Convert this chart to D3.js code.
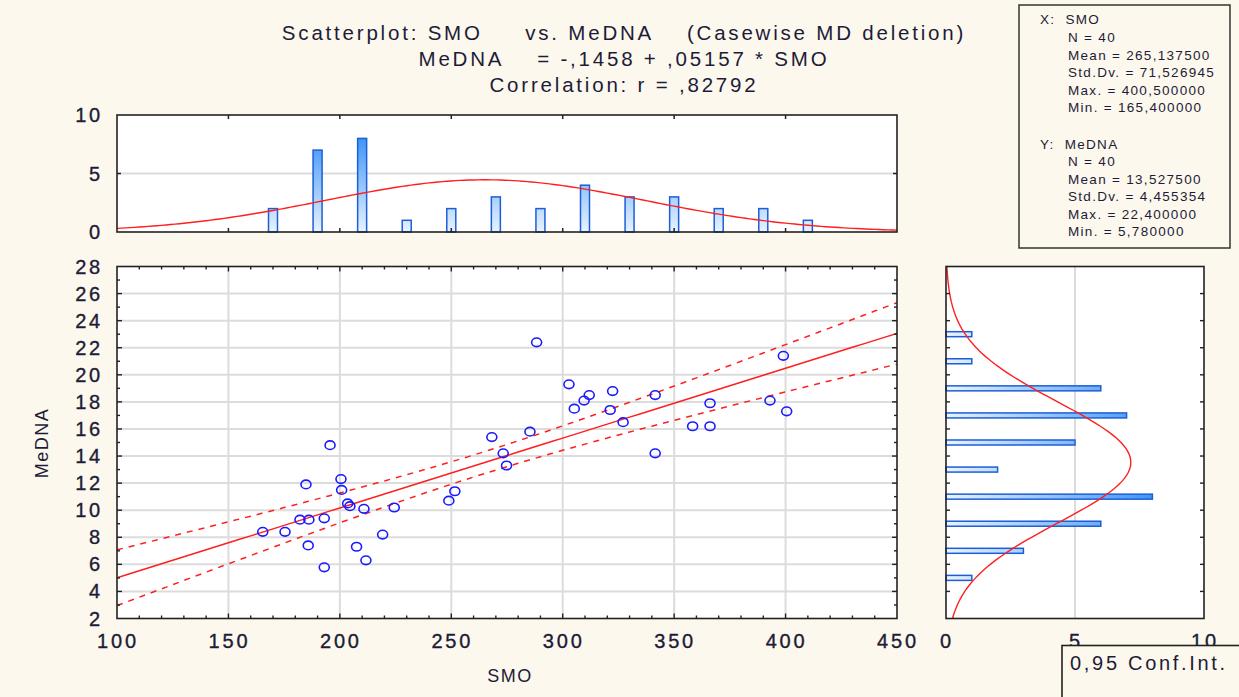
<!DOCTYPE html>
<html>
<head>
<meta charset="utf-8">
<script src="https://cdn.jsdelivr.net/npm/d3@7"></script>
<style>
  html, body { margin: 0; padding: 0; background: #fdf8ed; }
  svg { display: block; }
  text { font-family: "Liberation Sans", Arial, sans-serif; fill: #1c1c38; white-space: pre; }
  .num { font-size: 20px; letter-spacing: 2.8px; stroke: #1c1c38; stroke-width: 0.35px; }
</style>
</head>
<body>
<svg id="chart" width="1239" height="697"></svg>
<script>
// Paired observations (casewise deletion, N = 40)
const smo = [165.4, 175.4, 182.1, 184.8, 186.1, 185.8, 193.0, 193.0, 195.6, 200.5,
             200.8, 203.5, 204.5, 207.5, 210.8, 211.7, 219.2, 224.4, 248.9, 251.6,
             268.2, 273.3, 274.8, 285.3, 288.3, 302.8, 305.2, 309.6, 311.9, 321.3,
             322.4, 327.1, 341.5, 341.5, 358.3, 366.1, 366.1, 393.0, 399.0, 400.5];
const medna = [8.4, 8.4, 9.3, 11.9, 9.3, 7.4, 9.4, 5.78, 14.8, 12.3,
               11.5, 10.5, 10.3, 7.3, 10.1, 6.3, 8.2, 10.2, 10.7, 11.4,
               15.4, 14.2, 13.3, 15.8, 22.4, 19.3, 17.5, 18.1, 18.5, 17.4,
               18.8, 16.5, 18.5, 14.2, 16.2, 17.9, 16.2, 18.1, 21.4, 17.3];

// Marginal histograms: bin midpoints and frequencies
const smoBinMid = [150, 170, 190, 210, 230, 250, 270, 290, 310, 330, 350, 370, 390, 410, 430];
const smoBinCount = [0, 2, 7, 8, 1, 2, 3, 2, 4, 3, 3, 2, 2, 1, 0];
const smoBinWidth = 20;
const mednaBinMid = [5, 7, 9, 11, 13, 15, 17, 19, 21, 23];
const mednaBinCount = [1, 3, 6, 8, 2, 5, 7, 6, 1, 1];
const mednaBinWidth = 2;

// Summary statistics and regression
const nObs = 40;
const smoMean = 265.1375, smoSd = 71.526945;
const mednaMean = 13.5275, mednaSd = 4.455354;
const intercept = -0.1458, slope = 0.05157, corr = 0.82792;
const tCrit = 2.0244; // t(0.975, 38)

// Tick values
const xTicks = [100, 150, 200, 250, 300, 350, 400, 450];
const yTicks = [2, 4, 6, 8, 10, 12, 14, 16, 18, 20, 22, 24, 26, 28];
const topHistTicks = [0, 5, 10];
const rightHistTicks = [0, 5, 10];

// Text blocks
const titleLines = [
  "Scatterplot: SMO     vs. MeDNA    (Casewise MD deletion)",
  "MeDNA    = -,1458 + ,05157 * SMO",
  "Correlation: r = ,82792"
];
const statsX = ["N = 40", "Mean = 265,137500", "Std.Dv. = 71,526945", "Max. = 400,500000", "Min. = 165,400000"];
const statsY = ["N = 40", "Mean = 13,527500", "Std.Dv. = 4,455354", "Max. = 22,400000", "Min. = 5,780000"];

const svg = d3.select("#chart");
const fmt = d3.format("d");

// Panel geometry
const mainP = { x0: 117, x1: 897, y0: 266.5, y1: 618.5 };
const topP = { x0: 117, x1: 897, y0: 115, y1: 232 };
const sideP = { x0: 946, x1: 1204, y0: 266.5, y1: 618.5 };

const x = d3.scaleLinear().domain([100, 450]).range([mainP.x0, mainP.x1]);
const y = d3.scaleLinear().domain([2, 28]).range([mainP.y1, mainP.y0]);
const yTop = d3.scaleLinear().domain([0, 10]).range([topP.y1, topP.y0]);
const xSide = d3.scaleLinear().domain([0, 10]).range([sideP.x0, sideP.x1]);

const defs = svg.append("defs");
[["clipMain", mainP], ["clipTop", topP], ["clipSide", sideP]].forEach(([id, p]) => {
  defs.append("clipPath").attr("id", id).append("rect")
    .attr("x", p.x0).attr("y", p.y0).attr("width", p.x1 - p.x0).attr("height", p.y1 - p.y0);
});
// Bar fills shade with frequency
const gTop = defs.append("linearGradient").attr("id", "barTop")
  .attr("gradientUnits", "userSpaceOnUse")
  .attr("x1", 0).attr("x2", 0).attr("y1", yTop(0)).attr("y2", yTop(9));
gTop.append("stop").attr("offset", 0).attr("stop-color", "#e8f3ff");
gTop.append("stop").attr("offset", 1).attr("stop-color", "#2a8af5");
const gSide = defs.append("linearGradient").attr("id", "barSide")
  .attr("gradientUnits", "userSpaceOnUse")
  .attr("y1", 0).attr("y2", 0).attr("x1", xSide(0)).attr("x2", xSide(9));
gSide.append("stop").attr("offset", 0).attr("stop-color", "#e8f3ff");
gSide.append("stop").attr("offset", 1).attr("stop-color", "#2a8af5");

function panelBg(p) {
  svg.append("rect").attr("x", p.x0).attr("y", p.y0)
    .attr("width", p.x1 - p.x0).attr("height", p.y1 - p.y0).attr("fill", "#ffffff");
}
function panelFrame(p) {
  svg.append("rect").attr("x", p.x0).attr("y", p.y0)
    .attr("width", p.x1 - p.x0).attr("height", p.y1 - p.y0)
    .attr("fill", "none").attr("stroke", "#222").attr("stroke-width", 1.6);
}
const gridColor = "#dcdcdc";

// ---------- Title ----------
svg.append("g").selectAll("text").data(titleLines).join("text")
  .attr("x", 624).attr("y", (d, i) => 40 + i * 26)
  .attr("text-anchor", "middle")
  .style("font-size", "20.5px").style("letter-spacing", "2.8px")
  .text(d => d);

// ---------- Top histogram (SMO) ----------
panelBg(topP);
svg.append("line").attr("x1", topP.x0).attr("x2", topP.x1)
  .attr("y1", yTop(5)).attr("y2", yTop(5)).attr("stroke", gridColor).attr("stroke-width", 2);
const topBarW = 9;
svg.append("g").selectAll("rect").data(smoBinMid).join("rect")
  .attr("x", (d) => x(d) - topBarW / 2)
  .attr("y", (d, i) => yTop(smoBinCount[i]))
  .attr("width", topBarW)
  .attr("height", (d, i) => yTop(0) - yTop(smoBinCount[i]))
  .attr("fill", "url(#barTop)").attr("stroke", "#1d5ed8").attr("stroke-width", 1.5);
const normTop = d3.range(100, 450.5, 2).map(v => [v,
  nObs * smoBinWidth / (smoSd * Math.sqrt(2 * Math.PI)) * Math.exp(-0.5 * ((v - smoMean) / smoSd) ** 2)]);
svg.append("path").datum(normTop).attr("clip-path", "url(#clipTop)")
  .attr("d", d3.line().x(d => x(d[0])).y(d => yTop(d[1])))
  .attr("fill", "none").attr("stroke", "#ff1f1f").attr("stroke-width", 1.4);
// ticks
const topTickX = xTicks.slice(1, -1);
svg.append("g").selectAll("line").data(topTickX).join("line")
  .attr("x1", d => x(d)).attr("x2", d => x(d)).attr("y1", topP.y0).attr("y2", topP.y0 + 4)
  .attr("stroke", "#222").attr("stroke-width", 1.5);
svg.append("g").selectAll("line").data(topTickX).join("line")
  .attr("x1", d => x(d)).attr("x2", d => x(d)).attr("y1", topP.y1).attr("y2", topP.y1 - 4)
  .attr("stroke", "#222").attr("stroke-width", 1.5);
svg.append("g").selectAll("line").data([5]).join("line")
  .attr("x1", topP.x0).attr("x2", topP.x0 + 4).attr("y1", d => yTop(d)).attr("y2", d => yTop(d))
  .attr("stroke", "#222").attr("stroke-width", 1.5);
svg.append("g").selectAll("line").data([5]).join("line")
  .attr("x1", topP.x1).attr("x2", topP.x1 - 4).attr("y1", d => yTop(d)).attr("y2", d => yTop(d))
  .attr("stroke", "#222").attr("stroke-width", 1.5);
panelFrame(topP);
svg.append("g").selectAll("text").data(topHistTicks).join("text")
  .attr("class", "num")
  .attr("x", 103).attr("y", d => yTop(d) + 7)
  .attr("text-anchor", "end")
  .text(d => fmt(d));

// ---------- Main scatterplot ----------
panelBg(mainP);
const grid = svg.append("g").attr("stroke", gridColor).attr("stroke-width", 2);
grid.selectAll("line.v").data(xTicks.slice(1, -1)).join("line").attr("class", "v")
  .attr("x1", d => x(d)).attr("x2", d => x(d)).attr("y1", mainP.y0).attr("y2", mainP.y1);
grid.selectAll("line.h").data(yTicks.slice(1, -1)).join("line").attr("class", "h")
  .attr("x1", mainP.x0).attr("x2", mainP.x1).attr("y1", d => y(d)).attr("y2", d => y(d));

// regression line and 95% confidence band for the mean
const resSd = mednaSd * Math.sqrt(1 - corr * corr) * Math.sqrt((nObs - 1) / (nObs - 2));
const sxx = (nObs - 1) * smoSd * smoSd;
const fitPts = d3.range(100, 450.5, 5).map(v => {
  const yh = intercept + slope * v;
  const half = tCrit * resSd * Math.sqrt(1 / nObs + (v - smoMean) ** 2 / sxx);
  return { v, yh, lo: yh - half, hi: yh + half };
});
const fitG = svg.append("g").attr("clip-path", "url(#clipMain)")
  .attr("fill", "none").attr("stroke", "#ff1f1f").attr("stroke-width", 1.5);
fitG.append("path").datum(fitPts).attr("d", d3.line().x(d => x(d.v)).y(d => y(d.yh)));
fitG.append("path").datum(fitPts).attr("stroke-dasharray", "6,6")
  .attr("d", d3.line().x(d => x(d.v)).y(d => y(d.hi)));
fitG.append("path").datum(fitPts).attr("stroke-dasharray", "6,6")
  .attr("d", d3.line().x(d => x(d.v)).y(d => y(d.lo)));

svg.append("g").attr("clip-path", "url(#clipMain)").selectAll("ellipse")
  .data(smo.map((s, i) => [s, medna[i]])).join("ellipse")
  .attr("cx", d => x(d[0])).attr("cy", d => y(d[1]))
  .attr("rx", 5).attr("ry", 4.3)
  .attr("fill", "none").attr("stroke", "#1a1aff").attr("stroke-width", 1.6);

// ticks: minor every 10 on x, every 1 on y
const xMinor = d3.range(110, 450, 10);
const yMinor = d3.range(3, 28, 1);
const tk = svg.append("g").attr("stroke", "#222").attr("stroke-width", 1.4);
tk.selectAll("line.xt").data(xMinor).join("line").attr("class", "xt")
  .attr("x1", d => x(d)).attr("x2", d => x(d)).attr("y1", mainP.y0).attr("y2", d => mainP.y0 + (d % 50 === 0 ? 5 : 3));
tk.selectAll("line.xb").data(xMinor).join("line").attr("class", "xb")
  .attr("x1", d => x(d)).attr("x2", d => x(d)).attr("y1", mainP.y1).attr("y2", d => mainP.y1 - (d % 50 === 0 ? 5 : 3));
tk.selectAll("line.yl").data(yMinor).join("line").attr("class", "yl")
  .attr("x1", mainP.x0).attr("x2", d => mainP.x0 + (d % 2 === 0 ? 5 : 3)).attr("y1", d => y(d)).attr("y2", d => y(d));
tk.selectAll("line.yr").data(yMinor).join("line").attr("class", "yr")
  .attr("x1", mainP.x1).attr("x2", d => mainP.x1 - (d % 2 === 0 ? 5 : 3)).attr("y1", d => y(d)).attr("y2", d => y(d));
panelFrame(mainP);

svg.append("g").selectAll("text").data(yTicks).join("text")
  .attr("class", "num")
  .attr("x", 103).attr("y", d => y(d) + 7)
  .attr("text-anchor", "end")
  .text(d => fmt(d));
svg.append("g").selectAll("text").data(xTicks).join("text")
  .attr("class", "num")
  .attr("x", d => x(d) + 1).attr("y", 648)
  .attr("text-anchor", "middle")
  .text(d => fmt(d));
svg.append("text").attr("x", 510).attr("y", 682).attr("text-anchor", "middle")
  .style("font-size", "18px").style("letter-spacing", "1.5px").text("SMO");
svg.append("text").attr("transform", "translate(48,443) rotate(-90)").attr("text-anchor", "middle")
  .style("font-size", "18px").style("letter-spacing", "1.5px").text("MeDNA");

// ---------- Right histogram (MeDNA) ----------
panelBg(sideP);
svg.append("line").attr("x1", xSide(5)).attr("x2", xSide(5))
  .attr("y1", sideP.y0).attr("y2", sideP.y1).attr("stroke", gridColor).attr("stroke-width", 2);
const sideBarH = 5;
svg.append("g").selectAll("rect").data(mednaBinMid).join("rect")
  .attr("x", xSide(0))
  .attr("y", d => y(d) - sideBarH / 2)
  .attr("width", (d, i) => xSide(mednaBinCount[i]) - xSide(0))
  .attr("height", sideBarH)
  .attr("fill", "url(#barSide)").attr("stroke", "#1d5ed8").attr("stroke-width", 1.5);
const normSide = d3.range(2, 28.01, 0.2).map(v => [v,
  nObs * mednaBinWidth / (mednaSd * Math.sqrt(2 * Math.PI)) * Math.exp(-0.5 * ((v - mednaMean) / mednaSd) ** 2)]);
svg.append("path").datum(normSide).attr("clip-path", "url(#clipSide)")
  .attr("d", d3.line().x(d => xSide(d[1])).y(d => y(d[0])))
  .attr("fill", "none").attr("stroke", "#ff1f1f").attr("stroke-width", 1.4);
const sideTicks = yTicks.slice(1, -1);
const stk = svg.append("g").attr("stroke", "#222").attr("stroke-width", 1.4);
stk.selectAll("line.l").data(sideTicks).join("line").attr("class", "l")
  .attr("x1", sideP.x0).attr("x2", sideP.x0 + 4).attr("y1", d => y(d)).attr("y2", d => y(d));
stk.selectAll("line.r").data(sideTicks).join("line").attr("class", "r")
  .attr("x1", sideP.x1).attr("x2", sideP.x1 - 4).attr("y1", d => y(d)).attr("y2", d => y(d));
panelFrame(sideP);
svg.append("g").selectAll("text").data(rightHistTicks).join("text")
  .attr("class", "num")
  .attr("x", d => xSide(d) + 1).attr("y", 648)
  .attr("text-anchor", "middle")
  .text(d => fmt(d));

// ---------- Descriptive statistics box ----------
svg.append("rect").attr("x", 1019).attr("y", 5).attr("width", 211).attr("height", 243)
  .attr("fill", "#fdf8ed").attr("stroke", "#333").attr("stroke-width", 1.5);
const statsG = svg.append("g").style("font-size", "13.5px").style("letter-spacing", "1.3px");
statsG.append("text").attr("x", 1040).attr("y", 24).text("X:  SMO");
statsG.selectAll("text.sx").data(statsX).join("text").attr("class", "sx")
  .attr("x", 1068).attr("y", (d, i) => 42 + i * 17.5).text(d => d);
statsG.append("text").attr("x", 1040).attr("y", 149).text("Y:  MeDNA");
statsG.selectAll("text.sy").data(statsY).join("text").attr("class", "sy")
  .attr("x", 1068).attr("y", (d, i) => 166 + i * 17.5).text(d => d);

// ---------- Legend box ----------
svg.append("rect").attr("x", 1062).attr("y", 645.5).attr("width", 200).attr("height", 80)
  .attr("fill", "#fdf8ed").attr("stroke", "#222").attr("stroke-width", 1.6);
svg.append("text").attr("x", 1070).attr("y", 670)
  .style("font-size", "20px").style("letter-spacing", "2.7px").text("0,95 Conf.Int.");
</script>
</body>
</html>
